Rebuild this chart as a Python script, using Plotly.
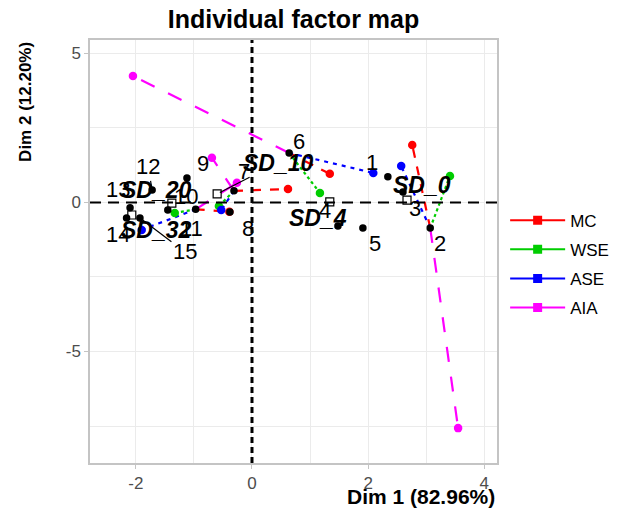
import plotly.graph_objects as go

# ---------------- data ----------------
ind_labels = ["1", "2", "3", "4", "5", "6", "7", "8", "9", "10", "11", "12", "13", "14", "15"]
ind_x = [2.34, 3.07, 2.60, 1.48, 1.91, 0.64, -0.31, -0.38, -1.12, -1.45, -0.97, -1.72, -2.10, -2.16, -1.93]
ind_y = [0.86, -0.86, 0.35, -0.79, -0.86, 1.66, 0.39, -0.32, 0.82, -0.25, -0.23, 0.42, -0.18, -0.52, -0.52]

partial_ind = ["2", "6", "7", "11"]
MC_x = [2.76, 1.34, 0.62, -0.39]
MC_y = [1.93, 0.96, 0.45, -0.31]
WSE_x = [3.41, 1.17, -0.57, -1.33]
WSE_y = [0.89, 0.32, -0.12, -0.35]
ASE_x = [2.57, 2.09, -0.53, -1.90]
ASE_y = [1.22, 0.99, -0.25, -0.92]
AIA_x = [3.55, -2.05, -0.69, -0.26]
AIA_y = [-7.57, 4.24, 1.50, 0.66]

sd_labels = ["SD_0", "SD_4", "SD_10", "SD_20", "SD_32"]
sd_x = [2.67, 1.34, -0.60, -1.38, -2.07]
sd_y = [0.08, 0.02, 0.29, -0.02, -0.42]

group_names = ["MC", "WSE", "ASE", "AIA"]
x_tick_vals = [-2, 0, 2, 4]
x_tick_text = ["-2", "0", "2", "4"]
y_tick_vals = [-5, 0, 5]
y_tick_text = ["-5", "0", "5"]

# ---------------- styles / layout config ----------------
group_style = {
    "MC": ("#FF0000", "dash"),
    "WSE": ("#00CD00", "dot"),
    "ASE": ("#0000FF", "4px,5px"),
    "AIA": ("#FF00FF", "longdash"),
}
ind_label_offsets = {"1": (-16, -14), "2": (10, 15), "3": (12, 16), "4": (-13, -16), "5": (12, 15),
                     "6": (10, -11), "7": (10, -19), "8": (18, 16), "9": (16, -15), "10": (18, -13),
                     "11": (-4, 19), "12": (-4, -23), "13": (-12, -18), "14": (-9, 17), "15": (45, 34)}
sd_label_offsets = {"SD_0": (15, -15), "SD_4": (-12, 16), "SD_10": (61, -31),
                    "SD_20": (-15, -13), "SD_32": (25, 15)}
with_segment = {"12", "15", "SD_10"}

FONT = "Liberation Sans, Arial, sans-serif"

fig = go.Figure()

group_data = {"MC": (MC_x, MC_y), "WSE": (WSE_x, WSE_y), "ASE": (ASE_x, ASE_y), "AIA": (AIA_x, AIA_y)}

# partial lines
for g in group_names:
    gx, gy = group_data[g]
    color, dash = group_style[g]
    xs, ys = [], []
    for i, ind in enumerate(partial_ind):
        k = ind_labels.index(ind)
        xs += [ind_x[k], gx[i], None]
        ys += [ind_y[k], gy[i], None]
    fig.add_trace(go.Scatter(x=xs, y=ys, mode="lines", line=dict(color=color, dash=dash, width=2.2),
                             showlegend=False, hoverinfo="skip"))

# partial points
for g in group_names:
    gx, gy = group_data[g]
    color, _ = group_style[g]
    fig.add_trace(go.Scatter(x=gx, y=gy, mode="markers", marker=dict(color=color, size=8.5),
                             showlegend=False))

# individuals (mean points)
fig.add_trace(go.Scatter(x=ind_x, y=ind_y, mode="markers", marker=dict(color="black", size=7.5),
                         showlegend=False, text=ind_labels))

# categories (open squares)
fig.add_trace(go.Scatter(x=sd_x, y=sd_y, mode="markers",
                         marker=dict(symbol="square-open", color="black", size=8, line=dict(width=1.2)),
                         showlegend=False, text=sd_labels))

# legend entries
for g in group_names:
    color, _ = group_style[g]
    fig.add_trace(go.Scatter(x=[None], y=[None], mode="lines+markers", name=g, legendgroup=g,
                             line=dict(color=color, width=2), marker=dict(symbol="square", size=9, color=color)))

annotations = []
for lab, x, y in zip(ind_labels, ind_x, ind_y):
    dx, dy = ind_label_offsets[lab]
    seg = lab in with_segment
    annotations.append(dict(x=x, y=y, xref="x", yref="y", text=lab, showarrow=True, ax=dx, ay=dy,
                            arrowhead=0, arrowwidth=1.2 if seg else 0.1,
                            arrowcolor="black" if seg else "rgba(0,0,0,0)", standoff=3,
                            font=dict(family=FONT, size=22, color="black")))
for lab, x, y in zip(sd_labels, sd_x, sd_y):
    dx, dy = sd_label_offsets[lab]
    seg = lab in with_segment
    annotations.append(dict(x=x, y=y, xref="x", yref="y", text="<b><i>%s</i></b>" % lab, showarrow=True,
                            ax=dx, ay=dy, arrowhead=0, arrowwidth=1.2 if seg else 0.1,
                            arrowcolor="black" if seg else "rgba(0,0,0,0)", standoff=3,
                            font=dict(family=FONT, size=23, color="black")))

# axis titles
annotations.append(dict(text="<b>Dim 1 (82.96%)</b>", x=1, xref="paper", xanchor="right",
                        y=-0.08, yref="paper", yanchor="middle", showarrow=False,
                        font=dict(family=FONT, size=21, color="black")))
annotations.append(dict(text="<b>Dim 2 (12.20%)</b>", x=-0.16, xref="paper", xanchor="center",
                        y=1, yref="paper", yanchor="top", textangle=-90, showarrow=False,
                        font=dict(family=FONT, size=17, color="black")))

shapes = [
    dict(type="line", xref="x", yref="paper", x0=0, x1=0, y0=0, y1=1, layer="above",
         line=dict(color="black", width=3, dash="6px,4px")),
    dict(type="line", xref="paper", yref="y", x0=0, x1=1, y0=0, y1=0, layer="above",
         line=dict(color="black", width=2, dash="11px,7px")),
]

fig.update_layout(
    width=640, height=508,
    margin=dict(l=90, r=143, t=40, b=45),
    paper_bgcolor="white", plot_bgcolor="white",
    title=dict(text="<b>Individual factor map</b>", x=0.5, xref="paper", xanchor="center",
               y=0.963, yref="container", yanchor="middle",
               font=dict(family=FONT, size=25, color="black")),
    xaxis=dict(range=[-2.79, 4.22], tickvals=x_tick_vals, ticktext=x_tick_text,
               showgrid=True, gridcolor="#EBEBEB", gridwidth=1.2, zeroline=False,
               minor=dict(tickvals=[-1, 1, 3], showgrid=True, gridcolor="#EBEBEB", gridwidth=1.2),
               showline=True, mirror=True, linecolor="#C4C4C4", linewidth=1.5,
               ticks="outside", ticklen=4, tickcolor="#C4C4C4",
               tickfont=dict(family=FONT, size=17, color="#4D4D4D")),
    yaxis=dict(range=[-8.74, 5.45], tickvals=y_tick_vals, ticktext=y_tick_text,
               showgrid=True, gridcolor="#EBEBEB", gridwidth=1.2, zeroline=False,
               minor=dict(tickvals=[-7.5, -2.5, 2.5], showgrid=True, gridcolor="#EBEBEB", gridwidth=1.2),
               showline=True, mirror=True, linecolor="#C4C4C4", linewidth=1.5,
               ticks="outside", ticklen=4, tickcolor="#C4C4C4",
               tickfont=dict(family=FONT, size=17, color="#4D4D4D")),
    legend=dict(x=1.02, y=0.47, xanchor="left", yanchor="middle", tracegroupgap=4,
                font=dict(family=FONT, size=17, color="black"), itemwidth=55, bgcolor="rgba(0,0,0,0)"),
    annotations=annotations,
    shapes=shapes,
    showlegend=True,
)

fig.write_html("out.html")
